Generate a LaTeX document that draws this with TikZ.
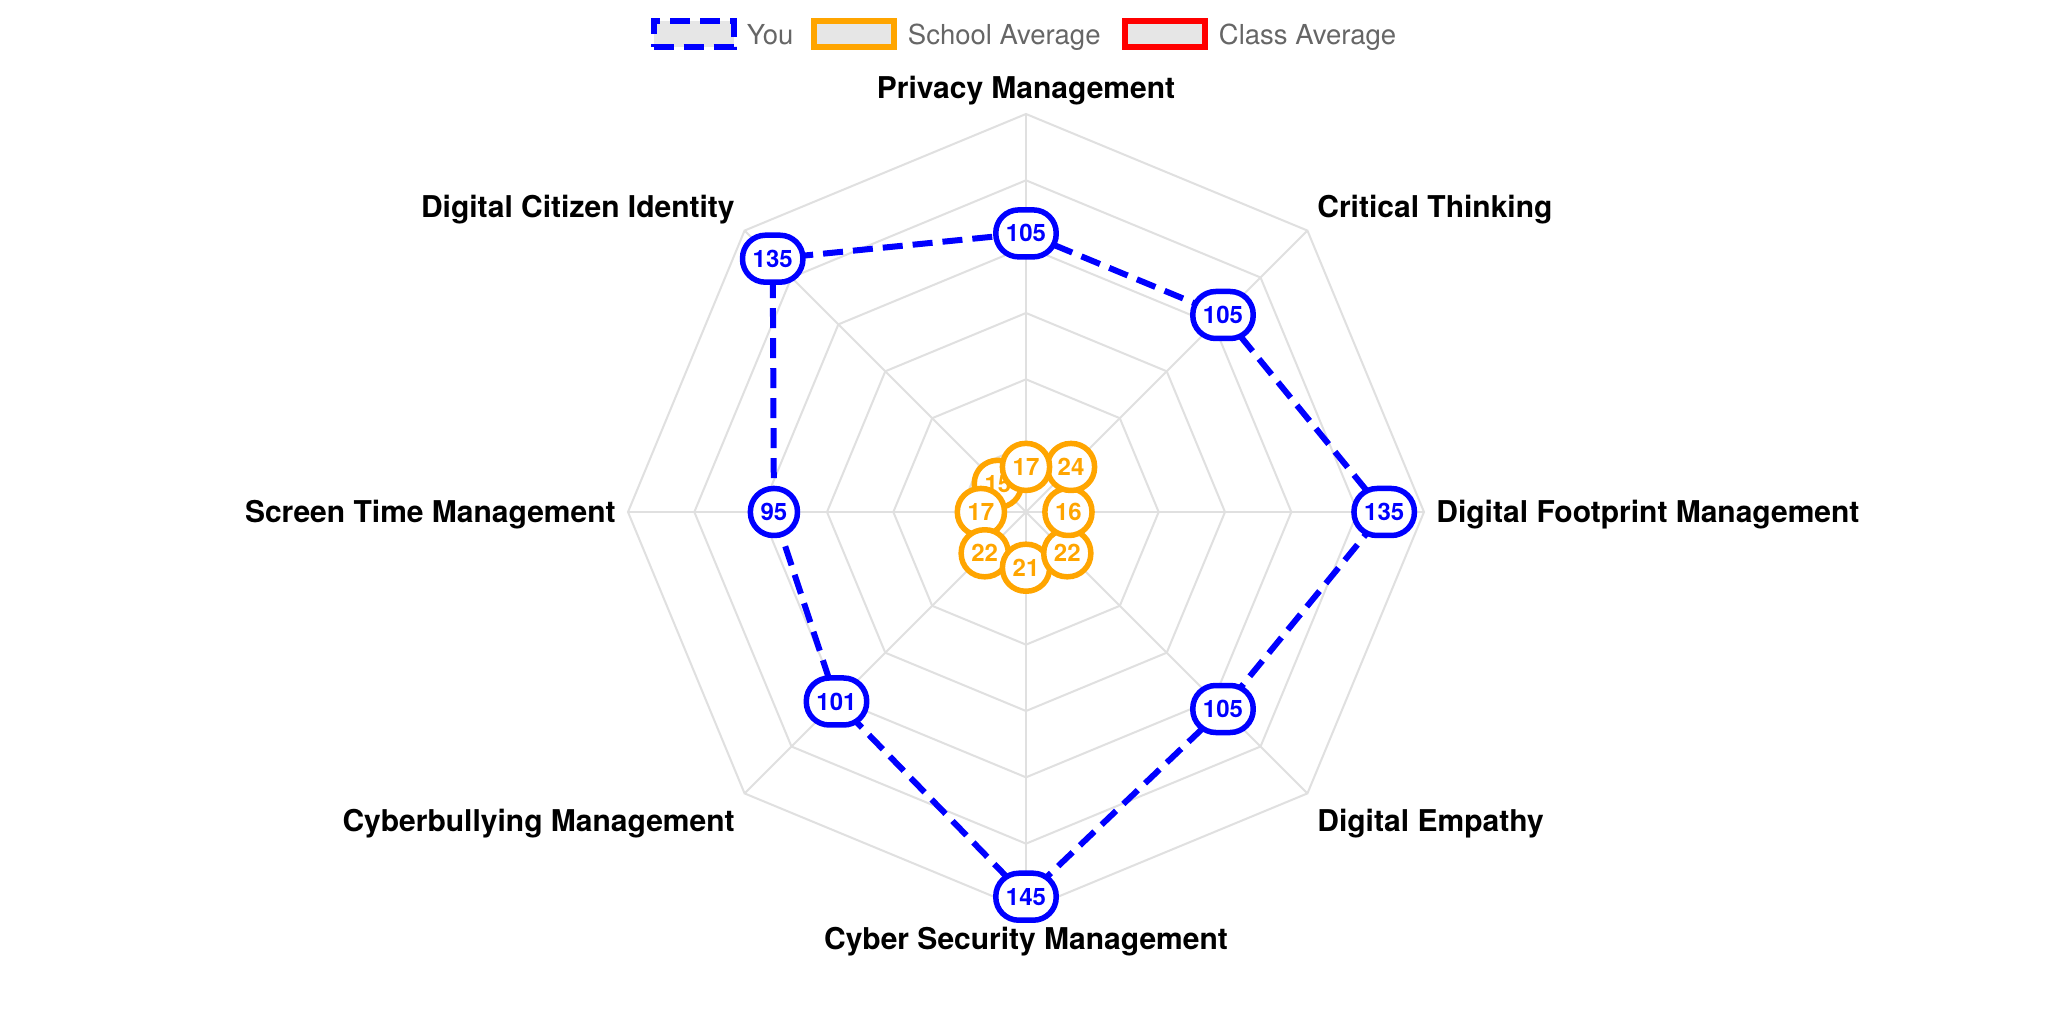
\documentclass[tikz,border=0pt]{standalone}
\usepackage{fontspec}
\setmainfont{TeX Gyre Heros}
\usetikzlibrary{calc}
\definecolor{gridc}{RGB}{224,224,224}
\definecolor{youc}{RGB}{0,0,255}
\definecolor{schc}{RGB}{255,165,0}
\definecolor{clsc}{RGB}{255,0,0}
\definecolor{legtxt}{RGB}{102,102,102}
\definecolor{legfill}{RGB}{230,230,230}
\begin{document}
\begin{tikzpicture}[x=0.5pt,y=-0.5pt,
  axislabel/.style={font=\fontsize{15pt}{18pt}\selectfont\bfseries, text=black, inner sep=0pt},
  legtext/.style={font=\fontsize{13.75pt}{16pt}\selectfont, text=legtxt, inner sep=0pt, anchor=base west},
  legbox/.style={line width=3pt, fill=legfill, minimum width=40pt, minimum height=13.2pt, inner sep=0pt},
  vallabel/.style={draw, fill=white, line width=2.75pt, rounded corners=11.5pt, minimum height=23.5pt, minimum width=23.5pt, inner xsep=5.1pt, inner ysep=0pt, font=\fontsize{12pt}{14pt}\selectfont\bfseries},
  youlab/.style={vallabel, draw=youc, text=youc},
  schlab/.style={vallabel, draw=schc, text=schc},
  gridline/.style={draw=gridc, line width=1pt},
  youline/.style={draw=youc, line width=3pt, dash pattern=on 10pt off 5pt},
  schline/.style={draw=schc, line width=3pt},
]
\useasboundingbox[fill=white] (0,0) rectangle (2052,1026);
\coordinate (C) at (1026,512);
% grid rings
\foreach \k in {1,...,6}{
  \draw[gridline] ($(C)+(-90:\k*66.3333)$)
    \foreach \i in {1,...,7}{ -- ($(C)+(-90+45*\i:\k*66.3333)$) } -- cycle;
}
% spokes
\foreach \i in {0,...,7}{
  \coordinate (V\i) at ($(C)+(-90+45*\i:398)$);
  \draw[gridline] (C) -- (V\i);
}
% axis labels
\node[axislabel, anchor=base] (lPriv) at (1026,98.5) {Privacy Management};
\node[axislabel, anchor=base west] (lCrit) at (1317,217.5) {Critical Thinking};
\node[axislabel, anchor=base west] (lFoot) at (1436,523) {Digital Footprint Management};
\node[axislabel, anchor=base west] (lEmp) at (1317,831.5) {Digital Empathy};
\node[axislabel, anchor=base] (lSec) at (1026,949.5) {Cyber Security Management};
\node[axislabel, anchor=base east] (lBully) at (735,831.5) {Cyberbullying Management};
\node[axislabel, anchor=base east] (lScreen) at (616,523) {Screen Time Management};
\node[axislabel, anchor=base east] (lCit) at (735,217.5) {Digital Citizen Identity};
% data points
\foreach \v [count=\i from 0] in {105,105,135,105,145,101,95,135}{
  \coordinate (Y\i) at ($(C)+(-90+45*\i:\v*2.65333)$);
}
\foreach \v [count=\i from 0] in {17,24,16,22,21,22,17,15}{
  \coordinate (S\i) at ($(C)+(-90+45*\i:\v*2.65333)$);
}
% dataset lines
\draw[schline] (S0) -- (S1) -- (S2) -- (S3) -- (S4) -- (S5) -- (S6) -- (S7) -- cycle;
\draw[youline] (Y0) -- (Y1) -- (Y2) -- (Y3) -- (Y4) -- (Y5) -- (Y6) -- (Y7) -- cycle;
% value labels (drawn in reverse order)
\foreach \i/\v in {7/15,6/17,5/22,4/21,3/22,2/16,1/24,0/17}{
  \node[schlab] (sl\i) at (S\i) {\v};
}
\foreach \i/\v in {7/135,6/95,5/101,4/145,3/105,2/135,1/105,0/105}{
  \node[youlab] (yl\i) at (Y\i) {\v};
}
% legend
\node[legbox, draw=youc, dash pattern=on 10pt off 5pt] (kYou) at (693.5,34) {};
\node[legtext] (tYou) at (746.5,44.5) {You};
\node[legbox, draw=schc] (kSch) at (854,34) {};
\node[legtext] (tSch) at (907.5,44.5) {School Average};
\node[legbox, draw=clsc] (kCls) at (1165,34) {};
\node[legtext] (tCls) at (1218.5,44.5) {Class Average};
\end{tikzpicture}
\end{document}
